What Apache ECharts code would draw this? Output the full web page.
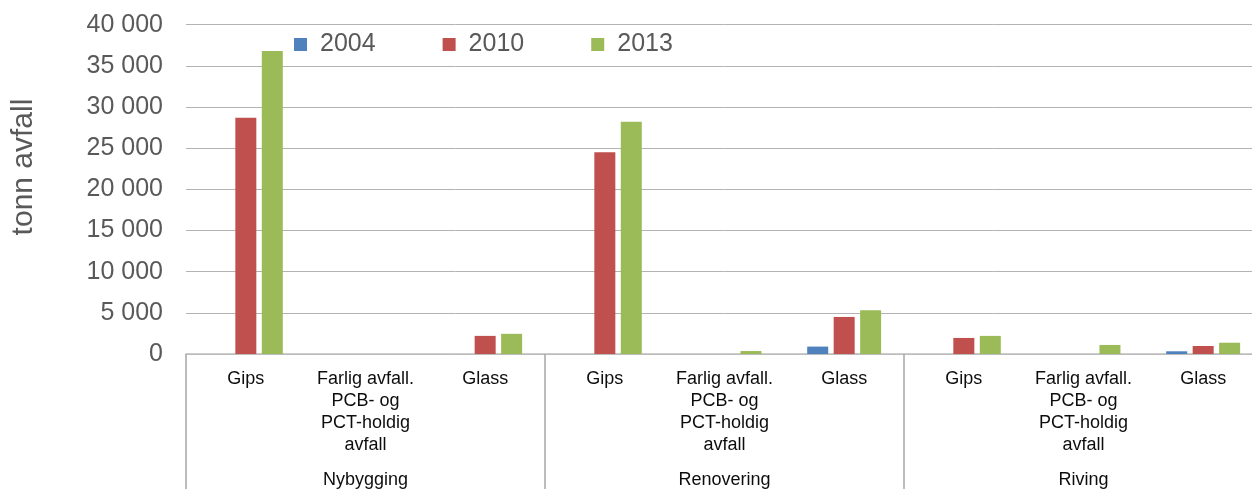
<!DOCTYPE html>
<html>
<head>
<meta charset="utf-8">
<script src="https://cdn.jsdelivr.net/npm/echarts@6/dist/echarts.min.js"></script>
<style>html,body{margin:0;padding:0;background:#fff;overflow:hidden;width:1252px;height:489px}#c{width:1263px;height:489px}</style>
</head>
<body>
<div id="c"></div>
<script>
const categories = ['Gips','Farlig avfall.\nPCB- og\nPCT-holdig\navfall','Glass','Gips','Farlig avfall.\nPCB- og\nPCT-holdig\navfall','Glass','Gips','Farlig avfall.\nPCB- og\nPCT-holdig\navfall','Glass'];
const groups = ['Nybygging','Renovering','Riving'];
const seriesNames = ['2004','2010','2013'];
const values2004 = [0, 0, 0, 0, 0, 900, 0, 0, 330];
const values2010 = [28700, 0, 2200, 24500, 0, 4500, 1950, 0, 970];
const values2013 = [36800, 0, 2450, 28200, 360, 5300, 2200, 1100, 1370];
const yTitle = 'tonn avfall';
const colors = ['#4f81bd','#c0504d','#9bbb59'];

const chart = echarts.init(document.getElementById('c'));
const font = 'Liberation Sans, Arial, sans-serif';
const data = [values2004, values2010, values2013];
chart.setOption({
  animation: false,
  color: colors,
  legend: {
    top: 27, left: 289,
    itemWidth: 13, itemHeight: 13, itemGap: 67,
    icon: 'rect',
    textStyle: {fontFamily: font, fontSize: 25, color: '#595959', padding: [0,0,0,8]},
    data: seriesNames
  },
  graphic: [{
    type: 'text', x: 24, y: 167, rotation: Math.PI / 2,
    style: {text: yTitle, fontFamily: font, fontSize: 30, fill: '#595959', align: 'center', verticalAlign: 'middle'}
  }],
  grid: {left: 186, right: 0, top: 24.7, bottom: 134},
  yAxis: {
    type: 'value', min: 0, max: 40000, interval: 5000,
    axisLine: {show: false}, axisTick: {show: false},
    axisLabel: {fontFamily: font, fontSize: 25, color: '#595959', margin: 23,
      formatter: v => String(v).replace(/\B(?=(\d{3})+(?!\d))/g, ' ')},
    splitLine: {lineStyle: {color: '#b3b3b3', width: 1}}
  },
  xAxis: [{
    type: 'category', data: categories, position: 'bottom',
    axisLine: {lineStyle: {color: '#bfbfbf', width: 1.5}},
    axisTick: {show: false},
    axisLabel: {fontFamily: font, fontSize: 18, color: '#0d0d0d', margin: 14, lineHeight: 22, interval: 0}
  }, {
    type: 'category', data: groups, position: 'bottom',
    axisLine: {show: false},
    axisTick: {show: true, length: 140, lineStyle: {color: '#a6a6a6', width: 1.5}},
    axisLabel: {fontFamily: font, fontSize: 18, color: '#0d0d0d', margin: 117}
  }],
  series: seriesNames.map((n, i) => ({
    name: n, type: 'bar', data: data[i], xAxisIndex: 0,
    barWidth: 21, barGap: '26%'
  }))
});
</script>
</body>
</html>
